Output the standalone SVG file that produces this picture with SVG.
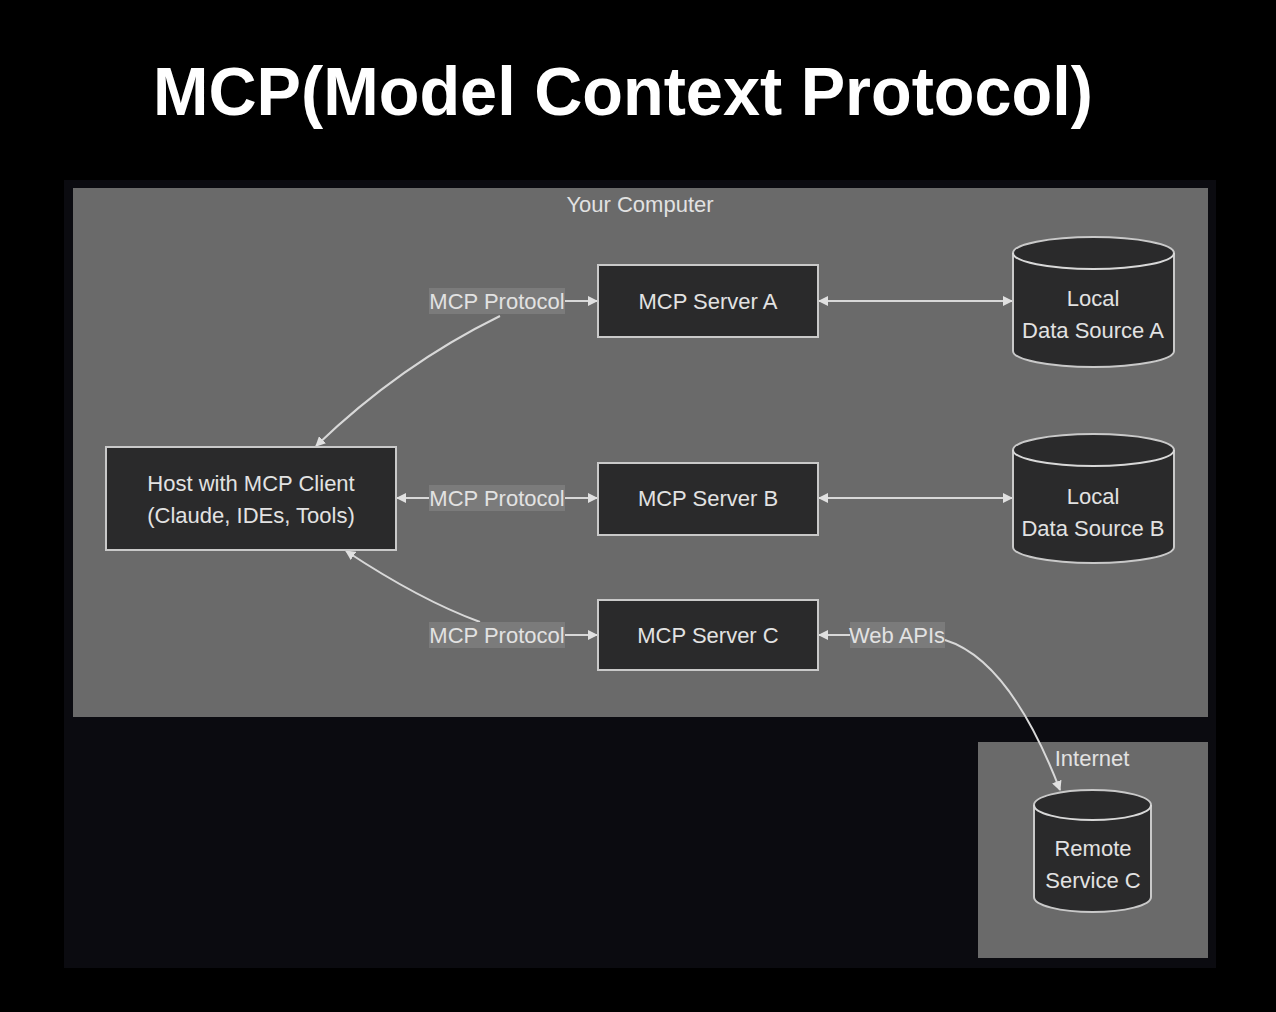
<svg xmlns="http://www.w3.org/2000/svg" width="1276" height="1012" viewBox="0 0 1276 1012">
<style>
.node{fill:#2a2a2b;stroke:#c9c9c9;stroke-width:2}
.t{font-family:"Liberation Sans",Arial,sans-serif;font-size:22px;fill:#e2e2e2;text-anchor:middle}
.lbl{fill:#7b7b7b}
.e{fill:none;stroke:#d8d8d8;stroke-width:2}
</style>
<defs>
<marker id="ah" viewBox="0 0 10 10" refX="9" refY="5" markerWidth="5" markerHeight="5" orient="auto-start-reverse">
<path d="M0,0 L10,5 L0,10 z" fill="#e0e0e0"/>
</marker>
</defs>
<rect x="0" y="0" width="1276" height="1012" fill="#000"/>
<rect x="64" y="180" width="1152" height="788" fill="#0b0b10"/>
<text x="623" y="115" font-family="Liberation Sans,Arial,sans-serif" font-weight="bold" font-size="68" fill="#ffffff" text-anchor="middle" textLength="940" lengthAdjust="spacingAndGlyphs">MCP(Model Context Protocol)</text>
<g id="your-computer">
<rect x="73" y="188" width="1135" height="529" fill="#6a6a6a"/>
<text class="t" x="640" y="212">Your Computer</text>
</g>
<g id="internet">
<rect x="978" y="742" width="230" height="216" fill="#6a6a6a"/>
<text class="t" x="1092" y="766">Internet</text>
</g>
<g id="connectors">
<path class="e" d="M565,301 L597,301" marker-end="url(#ah)"/>
<path class="e" d="M500,316 Q400,365 316,446" marker-end="url(#ah)"/>
<path class="e" d="M429,498 L397,498" marker-end="url(#ah)"/>
<path class="e" d="M565,498 L597,498" marker-end="url(#ah)"/>
<path class="e" d="M480,622 Q420,600 346,551" marker-end="url(#ah)"/>
<path class="e" d="M565,635 L597,635" marker-end="url(#ah)"/>
<path class="e" d="M819,301 L1012,301" marker-start="url(#ah)" marker-end="url(#ah)"/>
<path class="e" d="M819,498 L1012,498" marker-start="url(#ah)" marker-end="url(#ah)"/>
<path class="e" d="M850,635 L819,635" marker-end="url(#ah)"/>
<path class="e" d="M945,640 Q1010,660 1060,790" marker-end="url(#ah)"/>
<rect class="lbl" x="429" y="288" width="136" height="26"/>
<text class="t" x="497" y="309">MCP Protocol</text>
<rect class="lbl" x="429" y="485" width="136" height="26"/>
<text class="t" x="497" y="506">MCP Protocol</text>
<rect class="lbl" x="429" y="622" width="136" height="26"/>
<text class="t" x="497" y="643">MCP Protocol</text>
<rect class="lbl" x="850" y="622" width="95" height="26"/>
<text class="t" x="897" y="643">Web APIs</text>
</g>
<g id="host">
<rect class="node" x="106" y="447" width="290" height="103"/>
<text class="t" x="251" y="491">Host with MCP Client</text>
<text class="t" x="251" y="523">(Claude, IDEs, Tools)</text>
</g>
<g id="server-a">
<rect class="node" x="598" y="265" width="220" height="72"/>
<text class="t" x="708" y="309">MCP Server A</text>
</g>
<g id="server-b">
<rect class="node" x="598" y="463" width="220" height="72"/>
<text class="t" x="708" y="506">MCP Server B</text>
</g>
<g id="server-c">
<rect class="node" x="598" y="600" width="220" height="70"/>
<text class="t" x="708" y="643">MCP Server C</text>
</g>
<g id="data-a">
<path class="node" d="M1013,253 A80.5,16 0 0 1 1174,253 L1174,351 A80.5,16 0 0 1 1013,351 Z"/>
<path class="e" d="M1013,253 A80.5,16 0 0 0 1174,253"/>
<text class="t" x="1093" y="306">Local</text>
<text class="t" x="1093" y="338">Data Source A</text>
</g>
<g id="data-b">
<path class="node" d="M1013,450 A80.5,16 0 0 1 1174,450 L1174,547 A80.5,16 0 0 1 1013,547 Z"/>
<path class="e" d="M1013,450 A80.5,16 0 0 0 1174,450"/>
<text class="t" x="1093" y="504">Local</text>
<text class="t" x="1093" y="536">Data Source B</text>
</g>
<g id="remote-c">
<path class="node" d="M1034,805 A58.5,15 0 0 1 1151,805 L1151,897 A58.5,15 0 0 1 1034,897 Z"/>
<path class="e" d="M1034,805 A58.5,15 0 0 0 1151,805"/>
<text class="t" x="1093" y="856">Remote</text>
<text class="t" x="1093" y="888">Service C</text>
</g>
</svg>
